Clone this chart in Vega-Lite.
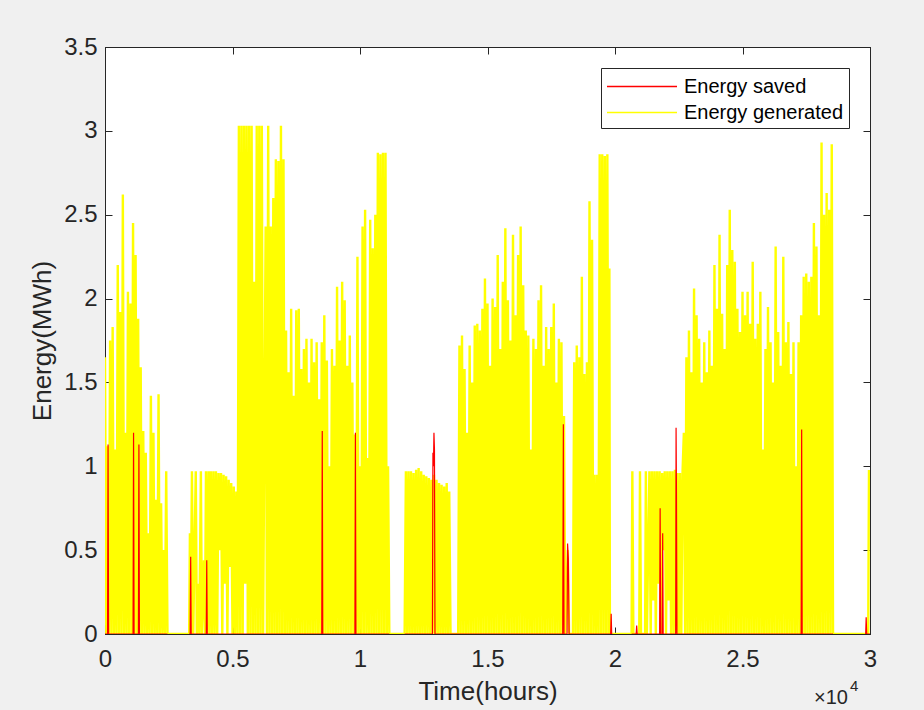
{
"$schema":"https://vega.github.io/schema/vega-lite/v6.json",
"width":765,"height":587,
"autosize":{"type":"none"},
"padding":{"left":105,"top":47,"right":54,"bottom":76},
"background":"#f0f0f0",
"config":{"view":{"stroke":"#262626","fill":"white","strokeWidth":1},
"font":"Liberation Sans",
"legend":{"orient":"top-right","offset":21,"labelFontSize":20,"labelFont":"Liberation Sans","labelColor":"#000000","strokeColor":"#262626","fillColor":"white","padding":5,"symbolSize":625,"symbolType":"M-1,0H4.6","symbolStrokeWidth":1.5,"labelOffset":51,"rowPadding":2,"labelLimit":400}},
"datasets":{
"gen":[
{"h":0,"e":1.65},{"h":50,"e":0},{"h":100,"e":1.12},{"h":150,"e":0},{"h":200,"e":1.75},{"h":250,"e":0},{"h":300,"e":1.83},{"h":350,"e":0},{"h":400,"e":1.1},{"h":450,"e":0},{"h":500,"e":2.2},{"h":550,"e":0},{"h":600,"e":1.92},{"h":650,"e":0},{"h":700,"e":2.62},{"h":750,"e":0},{"h":800,"e":1.2},{"h":850,"e":0},{"h":900,"e":2.04},{"h":950,"e":0},{"h":1000,"e":1.97},{"h":1050,"e":0},{"h":1100,"e":2.45},{"h":1150,"e":0},{"h":1200,"e":2.26},{"h":1250,"e":0},{"h":1300,"e":1.88},{"h":1350,"e":0},
{"h":1400,"e":1.59},{"h":1450,"e":0},{"h":1500,"e":1.21},{"h":1550,"e":0},{"h":1600,"e":1.08},{"h":1650,"e":0},{"h":1700,"e":0.6},{"h":1750,"e":0},{"h":1800,"e":1.42},{"h":1850,"e":0},{"h":1900,"e":1.2},{"h":1950,"e":0},{"h":2000,"e":0.8},{"h":2050,"e":0},{"h":2100,"e":1.43},{"h":2150,"e":0},{"h":2200,"e":0.78},{"h":2250,"e":0},{"h":2300,"e":0.5},{"h":2350,"e":0},{"h":2400,"e":0.97},{"h":2450,"e":0},
{"h":3300,"e":0},{"h":3330,"e":0.6},{"h":3360,"e":0},{"h":3410,"e":0.97},{"h":3460,"e":0},{"h":3560,"e":0.97},{"h":3600,"e":0},{"h":3650,"e":0.3},{"h":3700,"e":0},{"h":3760,"e":0.97},{"h":3800,"e":0},{"h":3880,"e":0.44},{"h":3920,"e":0},{"h":3960,"e":0.97},{"h":4000,"e":0},{"h":4060,"e":0.97},{"h":4100,"e":0},{"h":4150,"e":0.97},{"h":4200,"e":0},{"h":4250,"e":0.97},{"h":4300,"e":0},{"h":4350,"e":0.97},{"h":4400,"e":0},{"h":4450,"e":0.96},{"h":4500,"e":0.5},{"h":4550,"e":0.96},{"h":4600,"e":0},{"h":4650,"e":0.95},{"h":4700,"e":0.3},{"h":4750,"e":0.94},{"h":4800,"e":0},{"h":4850,"e":0.92},{"h":4900,"e":0.4},{"h":4950,"e":0.9},{"h":5000,"e":0},{"h":5050,"e":0.88},{"h":5100,"e":0},{"h":5150,"e":0.85},{"h":5200,"e":0},
{"h":5250,"e":3.03},{"h":5300,"e":0},{"h":5350,"e":3.03},{"h":5400,"e":0},{"h":5450,"e":3.03},{"h":5500,"e":0.3},{"h":5550,"e":3.03},{"h":5600,"e":0},{"h":5650,"e":3.03},{"h":5700,"e":0},{"h":5750,"e":3.03},{"h":5800,"e":0},{"h":5850,"e":2.1},{"h":5900,"e":0},{"h":5950,"e":3.03},{"h":6000,"e":0},{"h":6050,"e":3.03},{"h":6100,"e":0},{"h":6150,"e":3.03},{"h":6200,"e":0},
{"h":6300,"e":2.43},{"h":6350,"e":0},{"h":6400,"e":3.03},{"h":6450,"e":0},{"h":6500,"e":2.43},{"h":6550,"e":0},{"h":6600,"e":2.6},{"h":6650,"e":0},{"h":6700,"e":2.83},{"h":6750,"e":0},{"h":6800,"e":2.82},{"h":6850,"e":0},{"h":6900,"e":3.03},{"h":6950,"e":0},{"h":7000,"e":2.83},{"h":7050,"e":0},{"h":7100,"e":1.81},{"h":7150,"e":0},{"h":7200,"e":1.56},{"h":7250,"e":0},{"h":7300,"e":1.94},{"h":7350,"e":0},{"h":7400,"e":1.42},{"h":7450,"e":0},{"h":7500,"e":1.93},{"h":7550,"e":0},{"h":7600,"e":1.94},{"h":7650,"e":0},{"h":7700,"e":1.58},{"h":7750,"e":0},{"h":7800,"e":1.7},{"h":7850,"e":0},{"h":7900,"e":1.76},{"h":7950,"e":0},{"h":8000,"e":1.5},{"h":8050,"e":0},{"h":8100,"e":1.76},{"h":8150,"e":0},{"h":8200,"e":1.62},{"h":8250,"e":0},{"h":8300,"e":1.74},{"h":8350,"e":0},{"h":8400,"e":1.4},{"h":8450,"e":0},{"h":8500,"e":1.74},{"h":8550,"e":0},{"h":8600,"e":1.9},{"h":8650,"e":0},{"h":8700,"e":1.63},{"h":8750,"e":0},{"h":8800,"e":1.0},{"h":8850,"e":0},{"h":8900,"e":1.7},{"h":8950,"e":0},{"h":9000,"e":1.6},{"h":9050,"e":0},{"h":9100,"e":2.07},{"h":9150,"e":0},{"h":9200,"e":1.75},{"h":9250,"e":0},{"h":9300,"e":2.1},{"h":9350,"e":0},{"h":9400,"e":1.99},{"h":9450,"e":0},{"h":9500,"e":1.6},{"h":9550,"e":0},{"h":9600,"e":1.78},{"h":9650,"e":0},{"h":9700,"e":1.5},{"h":9750,"e":0},{"h":9800,"e":1.19},{"h":9850,"e":0},{"h":9900,"e":2.25},{"h":9950,"e":0},{"h":10000,"e":1.0},{"h":10050,"e":0},{"h":10100,"e":2.43},{"h":10150,"e":0},{"h":10200,"e":2.53},{"h":10250,"e":0},{"h":10300,"e":1.05},{"h":10350,"e":0},{"h":10400,"e":2.47},{"h":10450,"e":0},{"h":10500,"e":2.3},{"h":10550,"e":0},{"h":10600,"e":2.5},{"h":10650,"e":0},{"h":10700,"e":2.87},{"h":10750,"e":0},{"h":10800,"e":2.86},{"h":10850,"e":0},{"h":10900,"e":2.87},{"h":10950,"e":0},{"h":11000,"e":2.87},{"h":11050,"e":0},{"h":11100,"e":1.0},{"h":11150,"e":0},
{"h":11750,"e":0},{"h":11800,"e":0.97},{"h":11850,"e":0},{"h":11900,"e":0.97},{"h":11950,"e":0},{"h":12000,"e":0.97},{"h":12050,"e":0},{"h":12100,"e":0.96},{"h":12150,"e":0},{"h":12200,"e":0.98},{"h":12250,"e":0},{"h":12300,"e":0.99},{"h":12350,"e":0},{"h":12400,"e":0.97},{"h":12450,"e":0},{"h":12500,"e":0.95},{"h":12550,"e":0},{"h":12600,"e":0.94},{"h":12650,"e":0},{"h":12700,"e":0.93},{"h":12750,"e":0},{"h":12800,"e":0.92},{"h":12850,"e":0},{"h":12900,"e":0.95},{"h":12950,"e":0},{"h":13000,"e":0.92},{"h":13050,"e":0},{"h":13100,"e":0.9},{"h":13150,"e":0},{"h":13200,"e":0.89},{"h":13250,"e":0},{"h":13300,"e":0.88},{"h":13350,"e":0},{"h":13400,"e":0.9},{"h":13450,"e":0},{"h":13500,"e":0.85},{"h":13550,"e":0},
{"h":13850,"e":0},{"h":13900,"e":1.72},{"h":13950,"e":0},{"h":14000,"e":1.78},{"h":14050,"e":0},{"h":14100,"e":1.58},{"h":14150,"e":0},{"h":14200,"e":1.2},{"h":14250,"e":0},{"h":14300,"e":1.72},{"h":14350,"e":0},{"h":14400,"e":1.5},{"h":14450,"e":0},{"h":14500,"e":1.84},{"h":14550,"e":0},{"h":14600,"e":1.85},{"h":14650,"e":0},{"h":14700,"e":1.81},{"h":14750,"e":0},{"h":14800,"e":1.94},{"h":14850,"e":0},{"h":14900,"e":2.12},{"h":14950,"e":0},{"h":15000,"e":1.97},{"h":15050,"e":0},{"h":15100,"e":1.6},{"h":15150,"e":0},{"h":15200,"e":2.0},{"h":15250,"e":0},{"h":15300,"e":1.95},{"h":15350,"e":0},{"h":15400,"e":2.26},{"h":15450,"e":0},{"h":15500,"e":1.7},{"h":15550,"e":0},{"h":15600,"e":2.1},{"h":15650,"e":0},{"h":15700,"e":2.42},{"h":15750,"e":0},{"h":15800,"e":1.99},{"h":15850,"e":0},{"h":15900,"e":1.75},{"h":15950,"e":0},{"h":16000,"e":2.38},{"h":16050,"e":0},{"h":16100,"e":1.9},{"h":16150,"e":0},{"h":16200,"e":2.26},{"h":16250,"e":0},{"h":16300,"e":2.43},{"h":16350,"e":0},{"h":16400,"e":2.08},{"h":16450,"e":0},{"h":16500,"e":1.81},{"h":16550,"e":0},{"h":16600,"e":1.78},{"h":16650,"e":0},{"h":16700,"e":1.1},{"h":16750,"e":0},{"h":16800,"e":1.76},{"h":16850,"e":0},{"h":16900,"e":1.7},{"h":16950,"e":0},{"h":17000,"e":1.99},{"h":17050,"e":0},{"h":17100,"e":2.08},{"h":17150,"e":0},{"h":17200,"e":1.6},{"h":17250,"e":0},{"h":17300,"e":1.83},{"h":17350,"e":0},{"h":17400,"e":1.7},{"h":17450,"e":0},{"h":17500,"e":1.83},{"h":17550,"e":0},{"h":17600,"e":1.97},{"h":17650,"e":0},{"h":17700,"e":1.5},{"h":17750,"e":0},{"h":17800,"e":1.76},{"h":17850,"e":0},{"h":17900,"e":1.74},{"h":17950,"e":0},{"h":18000,"e":1.3},{"h":18050,"e":0},{"h":18150,"e":0.5},{"h":18200,"e":0},
{"h":18350,"e":0},{"h":18400,"e":1.62},{"h":18450,"e":0},{"h":18500,"e":1.72},{"h":18550,"e":0},{"h":18600,"e":1.65},{"h":18650,"e":0},{"h":18700,"e":2.13},{"h":18750,"e":0},{"h":18800,"e":1.55},{"h":18850,"e":0},{"h":18900,"e":1.62},{"h":18950,"e":0},{"h":19000,"e":2.58},{"h":19050,"e":0},{"h":19100,"e":2.35},{"h":19150,"e":0},{"h":19200,"e":0.95},{"h":19250,"e":0},{"h":19300,"e":0.95},{"h":19350,"e":0},{"h":19400,"e":2.86},{"h":19450,"e":0},{"h":19500,"e":2.86},{"h":19550,"e":0},{"h":19600,"e":2.85},{"h":19650,"e":0},{"h":19700,"e":2.86},{"h":19750,"e":0},{"h":19780,"e":2.18},{"h":19800,"e":0},
{"h":20650,"e":0},{"h":20680,"e":0.97},{"h":20720,"e":0},{"h":20950,"e":0},{"h":20980,"e":0.97},{"h":21020,"e":0},{"h":21180,"e":0},{"h":21210,"e":0.97},{"h":21250,"e":0},{"h":21350,"e":0.97},{"h":21400,"e":0},{"h":21450,"e":0.97},{"h":21500,"e":0.2},{"h":21550,"e":0.97},{"h":21600,"e":0},{"h":21650,"e":0.97},{"h":21700,"e":0.3},{"h":21750,"e":0.97},{"h":21800,"e":0},{"h":21850,"e":0.96},{"h":21900,"e":0.5},{"h":21950,"e":0.97},{"h":22000,"e":0},{"h":22050,"e":0.97},{"h":22100,"e":0.2},{"h":22150,"e":0.97},{"h":22200,"e":0},{"h":22250,"e":0.97},{"h":22300,"e":0},{"h":22350,"e":0.98},{"h":22400,"e":0},{"h":22450,"e":0.96},{"h":22500,"e":0},{"h":22550,"e":0.96},{"h":22600,"e":0},{"h":22650,"e":0.97},
{"h":22700,"e":1.2},{"h":22750,"e":0},{"h":22800,"e":1.65},{"h":22850,"e":0},{"h":22900,"e":1.81},{"h":22950,"e":0},{"h":23000,"e":1.56},{"h":23050,"e":0},{"h":23100,"e":2.06},{"h":23150,"e":0},{"h":23200,"e":1.9},{"h":23250,"e":0},{"h":23300,"e":1.76},{"h":23350,"e":0},{"h":23400,"e":1.5},{"h":23450,"e":0},{"h":23500,"e":1.74},{"h":23550,"e":0},{"h":23600,"e":1.56},{"h":23650,"e":0},{"h":23700,"e":1.81},{"h":23750,"e":0},{"h":23800,"e":1.6},{"h":23850,"e":0},{"h":23900,"e":2.2},{"h":23950,"e":0},{"h":24000,"e":1.94},{"h":24050,"e":0},{"h":24100,"e":2.38},{"h":24150,"e":0},{"h":24200,"e":1.91},{"h":24250,"e":0},{"h":24300,"e":1.7},{"h":24350,"e":0},{"h":24400,"e":2.2},{"h":24450,"e":0},{"h":24500,"e":2.53},{"h":24550,"e":0},{"h":24600,"e":2.29},{"h":24650,"e":0},{"h":24700,"e":2.22},{"h":24750,"e":0},{"h":24800,"e":1.94},{"h":24850,"e":0},{"h":24900,"e":1.8},{"h":24950,"e":0},{"h":25000,"e":2.04},{"h":25050,"e":0},{"h":25100,"e":1.9},{"h":25150,"e":0},{"h":25200,"e":2.04},{"h":25250,"e":0},{"h":25300,"e":1.85},{"h":25350,"e":0},{"h":25400,"e":2.22},{"h":25450,"e":0},{"h":25500,"e":1.76},{"h":25550,"e":0},{"h":25600,"e":1.85},{"h":25650,"e":0},{"h":25700,"e":2.04},{"h":25750,"e":0},{"h":25800,"e":1.1},{"h":25850,"e":0},{"h":25900,"e":1.7},{"h":25950,"e":0},{"h":26000,"e":1.95},{"h":26050,"e":0},{"h":26100,"e":1.74},{"h":26150,"e":0},{"h":26200,"e":1.5},{"h":26250,"e":0},{"h":26300,"e":2.31},{"h":26350,"e":0},{"h":26400,"e":1.8},{"h":26450,"e":0},{"h":26500,"e":1.6},{"h":26550,"e":0},{"h":26600,"e":2.25},{"h":26650,"e":0},{"h":26700,"e":1.74},{"h":26750,"e":0},{"h":26800,"e":1.86},{"h":26850,"e":0},{"h":26900,"e":1.55},{"h":26950,"e":0},{"h":27000,"e":1.74},{"h":27050,"e":0},{"h":27100,"e":1.0},{"h":27150,"e":0},{"h":27200,"e":1.74},{"h":27250,"e":0},{"h":27300,"e":1.9},{"h":27350,"e":0},{"h":27400,"e":2.13},{"h":27450,"e":0},{"h":27500,"e":2.15},{"h":27550,"e":0},{"h":27600,"e":2.1},{"h":27650,"e":0},{"h":27700,"e":2.13},{"h":27750,"e":0},{"h":27800,"e":2.45},{"h":27850,"e":0},{"h":27900,"e":2.31},{"h":27950,"e":0},{"h":28000,"e":1.9},{"h":28050,"e":0},{"h":28100,"e":2.93},{"h":28150,"e":0},{"h":28200,"e":2.5},{"h":28250,"e":0},{"h":28300,"e":2.63},{"h":28350,"e":0},{"h":28400,"e":2.53},{"h":28450,"e":0},{"h":28500,"e":2.92},{"h":28550,"e":0},
{"h":29930,"e":0},{"h":29960,"e":0.97},{"h":30000,"e":0.97}
],
"sav":[
{"h":0,"e":0},{"h":100,"e":0},{"h":120,"e":1.13},{"h":140,"e":0},{"h":1100,"e":0},{"h":1120,"e":1.2},{"h":1140,"e":0},{"h":1310,"e":0},{"h":1330,"e":1.13},{"h":1350,"e":0},{"h":2450,"e":0},{"h":2460,"e":null},{"h":3300,"e":0},{"h":3340,"e":0},{"h":3360,"e":0.46},{"h":3380,"e":0},{"h":3970,"e":0},{"h":3990,"e":0.44},{"h":4010,"e":0},{"h":8500,"e":0},{"h":8520,"e":1.21},{"h":8540,"e":0},{"h":9800,"e":0},{"h":9820,"e":1.2},{"h":9840,"e":0},{"h":11150,"e":0},{"h":11160,"e":null},{"h":11750,"e":0},{"h":12840,"e":0},{"h":12860,"e":1.08},{"h":12880,"e":1.0},{"h":12900,"e":1.2},{"h":12920,"e":1.1},{"h":12940,"e":0},{"h":17950,"e":0},{"h":17975,"e":1.25},{"h":18000,"e":0},{"h":18120,"e":0},{"h":18140,"e":0.54},{"h":18170,"e":0.45},{"h":18200,"e":0},{"h":19830,"e":0},{"h":19850,"e":0.12},{"h":19870,"e":0},{"h":19880,"e":null},{"h":20650,"e":0},{"h":20830,"e":0},{"h":20850,"e":0.05},{"h":20870,"e":0},{"h":21750,"e":0},{"h":21770,"e":0.75},{"h":21790,"e":0},{"h":21850,"e":0},{"h":21870,"e":0.6},{"h":21890,"e":0},{"h":22380,"e":0},{"h":22395,"e":1.23},{"h":22410,"e":0.85},{"h":22430,"e":0},{"h":27300,"e":0},{"h":27320,"e":1.22},{"h":27340,"e":0},{"h":28550,"e":0},{"h":28560,"e":null},{"h":29830,"e":0},{"h":29850,"e":0.1},{"h":29870,"e":0},{"h":30000,"e":0}
]},
"layer":[
{"data":{"name":"gen"},
"mark":{"type":"line","strokeWidth":2.4,"clip":true},
"encoding":{
"x":{"field":"h","type":"quantitative","scale":{"domain":[0,30000],"nice":false,"zero":false},
"axis":{"orient":"bottom","values":[0,5000,10000,15000,20000,25000,30000],"labelExpr":"datum.value/10000","grid":false,"tickSize":-7,"labelPadding":20,"labelFlush":false,"labelOverlap":false,"labelFontSize":24,"labelColor":"#262626","tickColor":"#262626","domainColor":"#262626","title":"Time(hours)","titleFontSize":26,"titleFontWeight":"normal","titleColor":"#262626","titlePadding":7}},
"y":{"field":"e","type":"quantitative","scale":{"domain":[0,3.5],"nice":false},
"axis":{"orient":"left","values":[0,0.5,1,1.5,2,2.5,3,3.5],"format":"~g","grid":false,"tickSize":-7,"labelPadding":15,"labelFlush":false,"labelOverlap":false,"labelFontSize":24,"labelColor":"#262626","tickColor":"#262626","domainColor":"#262626","title":"Energy(MWh)","titleFontSize":26,"titleFontWeight":"normal","titleColor":"#262626","titlePadding":8}},
"color":{"datum":"Energy generated","type":"nominal","scale":{"domain":["Energy saved","Energy generated"],"range":["#ff0000","#ffff00"]},"legend":{"title":null}}}},
{"data":{"name":"sav"},
"mark":{"type":"line","strokeWidth":1.2,"clip":true,"invalid":"break-paths-show-domains"},
"encoding":{
"x":{"field":"h","type":"quantitative","axis":{"orient":"top","values":[0,5000,10000,15000,20000,25000,30000],"labels":false,"grid":false,"tickSize":-7,"tickColor":"#262626","domainColor":"#262626","title":null}},
"y":{"field":"e","type":"quantitative","axis":{"orient":"right","values":[0,0.5,1,1.5,2,2.5,3,3.5],"labels":false,"grid":false,"tickSize":-7,"tickColor":"#262626","domainColor":"#262626","title":null}},
"color":{"datum":"Energy saved","type":"nominal"}}},
{"data":{"values":[{}]},
"mark":{"type":"text","text":"×10","fontSize":20,"color":"#262626","align":"center","baseline":"middle"},
"encoding":{"x":{"datum":28470,"type":"quantitative","axis":null},"y":{"datum":-0.38,"type":"quantitative","axis":null}}},
{"data":{"values":[{}]},
"mark":{"type":"text","text":"4","fontSize":15,"color":"#262626","align":"center","baseline":"middle"},
"encoding":{"x":{"datum":29380,"type":"quantitative","axis":null},"y":{"datum":-0.31,"type":"quantitative","axis":null}}}
],
"resolve":{"axis":{"x":"independent","y":"independent"}}
}
